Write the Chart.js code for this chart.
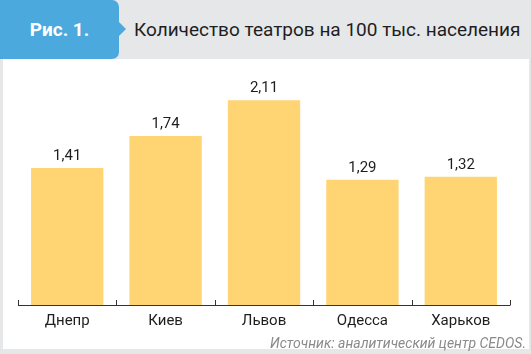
<!DOCTYPE html>
<html>
<head>
<meta charset="utf-8">
<script src="https://cdn.jsdelivr.net/npm/chart.js@4"></script>
<style>
  html, body { margin: 0; padding: 0; }
  body { width: 531px; height: 354px; background: #e6e7e9; position: relative; overflow: hidden; font-family: Roboto, sans-serif; }
  #badge { position: absolute; left: 0; top: 0; width: 119px; height: 59px; background: #4ca9de; border-radius: 0 7px 7px 0;
    color: #fff; font-weight: bold; font-size: 19px; line-height: 59px; text-align: center; }
  #badge:after { content: ''; position: absolute; right: -7px; top: 22px; border-left: 7px solid #4ca9de;
    border-top: 7px solid transparent; border-bottom: 7px solid transparent; }
  #title { position: absolute; left: 134px; top: 0; line-height: 59px; font-size: 19px; color: #1e1e1e; white-space: nowrap; }
  #panel { position: absolute; left: 3px; top: 59px; width: 526px; height: 290px; background: #fff; }
  #source { position: absolute; right: 3px; top: 276px; font-size: 14px; font-style: italic; color: #8a8a8a; white-space: nowrap; }
  canvas { position: absolute; left: 0; top: 0; }
</style>
</head>
<body>
<div id="badge">Рис. 1.</div>
<div id="title">Количество театров на 100 тыс. населения</div>
<div id="panel">
  <canvas id="bars" width="526" height="278"></canvas>
  <div id="source">Источник: аналитический центр CEDOS.</div>
</div>
<script>
const cities = ['Днепр', 'Киев', 'Львов', 'Одесса', 'Харьков'];
const theatres = [1.41, 1.74, 2.11, 1.29, 1.32];

const valueLabels = {
  id: 'valueLabels',
  afterDatasetsDraw(chart) {
    const ctx = chart.ctx;
    ctx.save();
    ctx.font = '15px Roboto';
    ctx.fillStyle = '#1e1e1e';
    ctx.textAlign = 'center';
    ctx.textBaseline = 'bottom';
    chart.getDatasetMeta(0).data.forEach((bar, i) => {
      ctx.fillText(theatres[i].toFixed(2).replace('.', ','), bar.x, bar.y - 4);
    });
    ctx.restore();
  }
};

// small ticks pointing up from the baseline, between categories
const upTicks = {
  id: 'upTicks',
  afterDraw(chart) {
    const ctx = chart.ctx, x = chart.scales.x, area = chart.chartArea;
    ctx.save();
    ctx.strokeStyle = '#333';
    ctx.lineWidth = 1;
    ctx.beginPath();
    ctx.moveTo(area.left, area.bottom + 0.5);
    ctx.lineTo(area.right, area.bottom + 0.5);
    for (let i = 0; i <= cities.length; i++) {
      const px = Math.round(x.getPixelForValue(i - 0.5)) + 0.5;
      ctx.moveTo(px, area.bottom + 0.5);
      ctx.lineTo(px, area.bottom - 5);
    }
    ctx.stroke();
    ctx.restore();
  }
};

new Chart(document.getElementById('bars').getContext('2d'), {
  type: 'bar',
  data: {
    labels: cities,
    datasets: [{
      data: theatres,
      backgroundColor: '#ffd574',
      categoryPercentage: 0.735,
      barPercentage: 1
    }]
  },
  options: {
    responsive: false,
    animation: false,
    layout: { padding: { left: 15, right: 19, top: 13, bottom: 0 } },
    plugins: { legend: { display: false }, tooltip: { enabled: false } },
    scales: {
      x: {
        grid: { display: false, drawTicks: false },
        border: { display: false },
        ticks: { color: '#1e1e1e', font: { size: 15, family: 'Roboto' }, padding: 7 }
      },
      y: {
        display: false,
        min: 0,
        max: 2.4
      }
    }
  },
  plugins: [valueLabels, upTicks]
});
</script>
</body>
</html>
